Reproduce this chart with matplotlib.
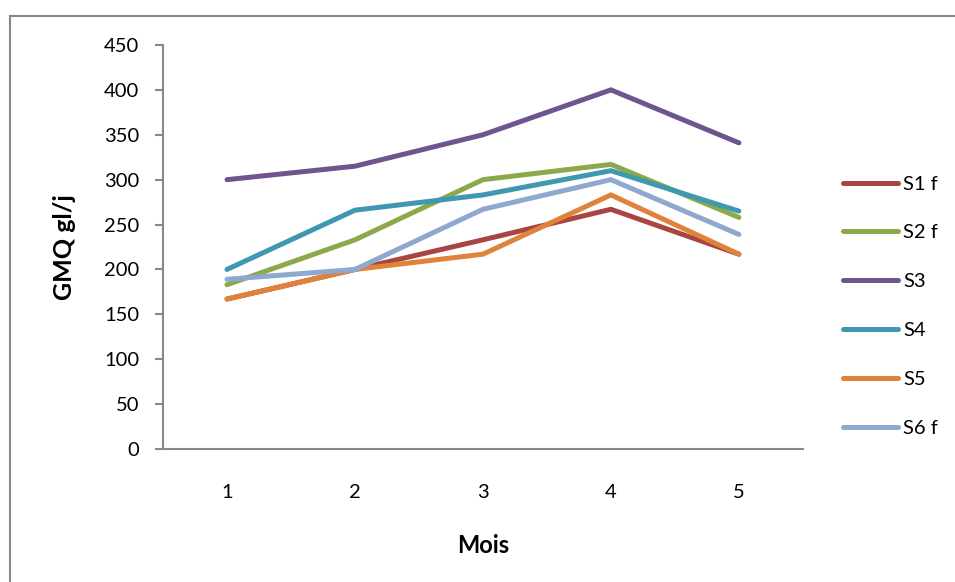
import matplotlib.pyplot as plt
from matplotlib.patches import Rectangle

plt.rcParams['font.family'] = ['Lato', 'DejaVu Sans']

# ----- Data -----
months = [1, 2, 3, 4, 5]
series_names = ["S1 f", "S2 f", "S3", "S4", "S5", "S6 f"]
s1_f = [167, 200, 233, 267, 217]
s2_f = [183, 233, 300, 317, 258]
s3 = [300, 315, 350, 400, 341]
s4 = [200, 266, 283, 310, 265]
s5 = [167, 200, 217, 283, 217]
s6_f = [189, 200, 267, 300, 239]
yticks = [0, 50, 100, 150, 200, 250, 300, 350, 400, 450]

colors = ["#A84441", "#8BA94A", "#6F5490", "#3F98B0", "#E0823A", "#8EA8D0"]
all_series = [s1_f, s2_f, s3, s4, s5, s6_f]

fig = plt.figure(figsize=(9.55, 5.82), dpi=100)
ax = fig.add_axes([0.1707, 0.2285, 0.670, 0.6942])

# later series sit on top, as in Excel
for name, vals, col in zip(series_names, all_series, colors):
    ax.plot(months, vals, color=col, linewidth=3.6, solid_capstyle="round",
            solid_joinstyle="miter", label=name)

ax.set_xlim(0.5, 5.5)
ax.set_ylim(0, 450)
ax.set_xticks(months)
ax.set_yticks(yticks)

for side in ["top", "right"]:
    ax.spines[side].set_visible(False)
for side in ["left", "bottom"]:
    ax.spines[side].set_color("#888888")
    ax.spines[side].set_linewidth(1.5)

ax.tick_params(axis="y", length=6, width=1.5, color="#888888", pad=11, labelsize=14.5)
ax.tick_params(axis="x", length=0, pad=25, labelsize=14.5)

ax.set_xlabel("Mois", fontsize=17, fontweight="bold", labelpad=24)
ax.set_ylabel("GMQ gl/j", fontsize=18, fontweight="bold", labelpad=20)

ax.legend(loc="upper left", bbox_to_anchor=(1.05, 0.697),
          frameon=False, fontsize=14.5, handlelength=2.75, handletextpad=0.25,
          labelspacing=1.58, borderaxespad=0)

# chart area border
fig.patches.append(Rectangle((9.5 / 955, -0.1), 1.2, 1 - 16 / 582 + 0.1,
                             transform=fig.transFigure, fill=False,
                             edgecolor="#888888", linewidth=1.5))

fig.savefig("out.png", dpi=100)
